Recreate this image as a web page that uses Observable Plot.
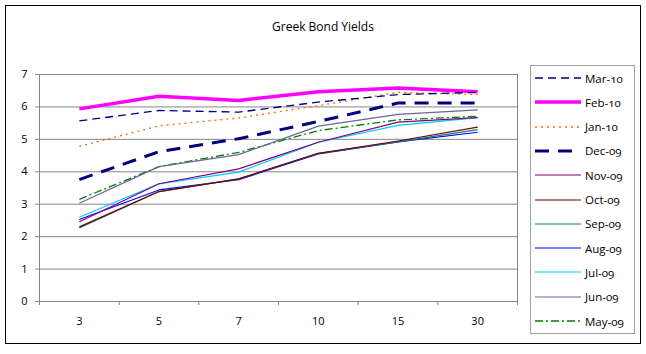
<!DOCTYPE html>
<html><head><meta charset="utf-8">
<script src="https://cdn.jsdelivr.net/npm/d3@7"></script>
<script src="https://cdn.jsdelivr.net/npm/@observablehq/plot@0.6"></script>
<style>
body{margin:0;background:#fff;}
#wrap{position:relative;width:646px;height:354px;font-family:"Open Sans",sans-serif;font-variant-numeric:oldstyle-nums;}
#border{position:absolute;left:5px;top:5px;width:634px;height:337px;border:1px solid #000;pointer-events:none;}
#title{position:absolute;left:0;width:646px;top:18px;text-align:center;font-size:12px;color:#000;}
#legend{position:absolute;left:530px;top:65px;width:103px;height:267px;border:1px solid #a0a0a0;background:#fff;}
.row{position:absolute;left:0;height:20px;display:flex;align-items:center;font-size:11.5px;}
.row svg{margin-left:4px;margin-right:4px;}
svg{overflow:visible}
</style></head>
<body><div id="wrap"><div id="chart"></div><div id="border"></div><div id="title">Greek Bond Yields</div><div id="legend"></div></div>
<script>
const tenors = ["3","5","7","10","15","30"];
const yTicks = [0,1,2,3,4,5,6,7];
const seriesNames = ["Mar-10","Feb-10","Jan-10","Dec-09","Nov-09","Oct-09","Sep-09","Aug-09","Jul-09","Jun-09","May-09"];
const mar10 = [5.57, 5.89, 5.84, 6.15, 6.38, 6.45];
const feb10 = [5.94, 6.33, 6.20, 6.47, 6.58, 6.47];
const jan10 = [4.78, 5.42, 5.66, 6.04, 6.45, 6.38];
const dec09 = [3.76, 4.62, 5.02, 5.55, 6.12, 6.12];
const nov09 = [2.46, 3.63, 4.09, 4.91, 5.53, 5.67];
const oct09 = [2.30, 3.39, 3.78, 4.57, 4.95, 5.38];
const sep09 = [2.27, 3.39, 3.78, 4.57, 4.92, 5.30];
const aug09 = [2.53, 3.44, 3.76, 4.55, 4.92, 5.22];
const jul09 = [2.60, 3.63, 3.99, 4.91, 5.43, 5.67];
const jun09 = [3.03, 4.16, 4.53, 5.41, 5.77, 5.91];
const may09 = [3.15, 4.16, 4.60, 5.27, 5.60, 5.71];
const seriesValues = [mar10, feb10, jan10, dec09, nov09, oct09, sep09, aug09, jul09, jun09, may09];

const styles = {
  "Mar-10": {stroke:"#000080", strokeWidth:1.3, strokeDasharray:"8,5"},
  "Feb-10": {stroke:"#ff00ff", strokeWidth:3.5},
  "Jan-10": {stroke:"#ff6600", strokeWidth:1.3, strokeDasharray:"2,4"},
  "Dec-09": {stroke:"#000080", strokeWidth:3, strokeDasharray:"14,9"},
  "Nov-09": {stroke:"#800080", strokeWidth:1.2},
  "Oct-09": {stroke:"#800000", strokeWidth:1.2},
  "Sep-09": {stroke:"#008080", strokeWidth:1.2},
  "Aug-09": {stroke:"#0000ff", strokeWidth:1.2},
  "Jul-09": {stroke:"#00ccff", strokeWidth:1.2},
  "Jun-09": {stroke:"#666699", strokeWidth:1.2},
  "May-09": {stroke:"#008000", strokeWidth:1.3, strokeDasharray:"8,3,2,3"}
};

const idx = tenors.map((t,i)=>i);
const bounds = d3.range(tenors.length+1).map(i=>i-0.5);
const lineMarks = seriesNames.map((name,k)=>({name,k})).reverse().map(({name,k}) =>
  Plot.line(seriesValues[k].map((v,i)=>({i, v})), {x:"i", y:"v", ...styles[name], strokeLinejoin:"round", strokeLinecap:"butt"})
);

const chart = Plot.plot({
  width:646, height:354,
  marginLeft:39, marginRight:129, marginTop:74, marginBottom:53,
  style:{fontFamily:"'Open Sans',sans-serif", fontSize:"11px", fontVariantNumeric:"oldstyle-nums", color:"#000"},
  x:{type:"linear", domain:[-0.5, tenors.length-0.5]},
  y:{domain:[0,7]},
  marks:[
    Plot.ruleY(yTicks, {stroke:"#868686", strokeWidth:1}),
    Plot.frame({stroke:"#868686"}),
    Plot.axisY({ticks:yTicks, tickSize:4, tickPadding:8, stroke:"#868686", label:null, tickFormat:d=>String(d)}),
    Plot.axisX({ticks:bounds, tickSize:4, tickFormat:()=>"", stroke:"#868686", label:null}),
    Plot.axisX({ticks:idx, tickSize:0, tickPadding:16, tickFormat:i=>tenors[i], label:null}),
    ...lineMarks
  ]
});
document.getElementById("chart").appendChild(chart);

const legend = document.getElementById("legend");
seriesNames.forEach((name,k)=>{
  const s = styles[name];
  const row = document.createElement("div");
  row.className = "row";
  row.style.top = (2 + k*24.3) + "px";
  row.innerHTML = `<svg width="46" height="10"><line x1="0" x2="46" y1="5" y2="5" stroke="${s.stroke}" stroke-width="${s.strokeWidth}" ${s.strokeDasharray?`stroke-dasharray="${s.strokeDasharray}"`:""}/></svg><span>${name}</span>`;
  legend.appendChild(row);
});
</script></body></html>
